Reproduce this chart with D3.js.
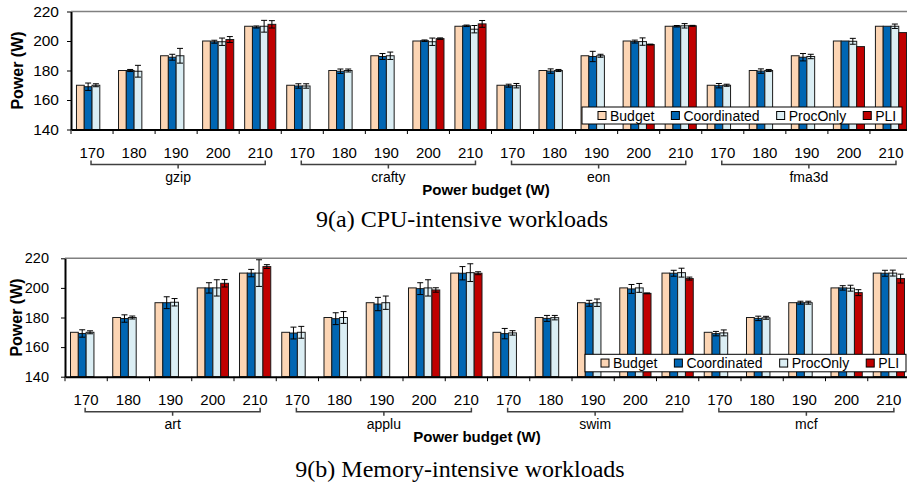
<!DOCTYPE html>
<html>
<head>
<meta charset="utf-8">
<script src="https://cdn.jsdelivr.net/npm/d3@7"></script>
<style>
  body { margin: 0; background: #fff; }
</style>
</head>
<body>
<script>
// categories
const budgets = [170, 180, 190, 200, 210];
const seriesNames = ['Budget', 'Coordinated', 'ProcOnly', 'PLI'];
const yTicks = [140, 160, 180, 200, 220];

// 9(a) CPU-intensive workloads
const cpuWorkloads = ['gzip', 'crafty', 'eon', 'fma3d'];
const cpuBudget = [170, 180, 190, 200, 210, 170, 180, 190, 200, 210, 170, 180, 190, 200, 210, 170, 180, 190, 200, 210];
const cpuCoord = [169, 180, 189, 199.5, 209.5, 169.5, 179.5, 189.5, 200.2, 210.3, 169.7, 179.6, 189.5, 199.6, 210, 169.7, 179.6, 189, 200, 210];
const cpuCoordErr = [2.5, 0.7, 2, 1, 0.7, 1.5, 1.5, 2, 0.5, 0.5, 1, 1.5, 3.5, 1, 0.5, 1.5, 1.5, 2.5, 0, 0];
const cpuProc = [170, 179.5, 190, 199.5, 210, 169.5, 180, 190, 199.5, 208, 169.7, 180, 190, 199.6, 210.3, 170, 180, 189.5, 199.8, 210];
const cpuProcErr = [1, 4, 5, 2.5, 4, 1.5, 1, 2.5, 2.5, 2.5, 1.5, 0.7, 1, 2.5, 1.5, 0.7, 0.7, 1.5, 2, 1.5];
const cpuPLI = [null, null, null, 201, 211.3, null, null, null, 201.6, 211.6, null, null, null, 197.6, 210.3, null, null, null, 196.2, 205.7];
const cpuPLIErr = [0, 0, 0, 2, 2.5, 0, 0, 0, 0.5, 2.3, 0, 0, 0, 0.3, 0.3, 0, 0, 0, 0, 0];

// 9(b) Memory-intensive workloads
const memWorkloads = ['art', 'applu', 'swim', 'mcf'];
const memBudget = [170, 180, 190, 200, 210, 170, 180, 190, 200, 210, 170, 180, 190, 200, 210, 170, 180, 190, 200, 210];
const memCoord = [169.2, 179.3, 190, 200, 210, 169.5, 179.2, 189.1, 199.5, 209.9, 169.1, 179.4, 189.6, 199.3, 209.9, 169.1, 179.4, 190, 200, 209.9];
const memCoordErr = [2.5, 2.5, 4, 3.5, 2.5, 4, 4, 4.5, 4, 4.5, 3.5, 2, 2, 3, 2, 1.5, 1.5, 1, 1.5, 2];
const memProc = [170, 180, 190.3, 200, 210, 170, 180, 190, 200, 210.3, 169.6, 179.9, 190, 200, 210.3, 169.6, 179.8, 190, 199.8, 210];
const memProcErr = [1, 1, 2.5, 5.5, 9, 4, 4, 4.5, 5.5, 6, 1.5, 1.5, 2.5, 3, 3, 2, 1, 1, 2, 2];
const memPLI = [null, null, null, 203.1, 214.4, null, null, null, 198.6, 209.9, null, null, null, 196.3, 206.3, null, null, null, 196.8, 206.3];
const memPLIErr = [0, 0, 0, 2.5, 1.3, 0, 0, 0, 1.5, 1, 0, 0, 0, 0.3, 1, 0, 0, 0, 2, 3];

const colors = ['#fcd5b4', '#0066b3', '#dbeef4', '#c00000'];
const sans = '"Liberation Sans", Arial, sans-serif';
const serif = '"Liberation Serif", "Times New Roman", serif';

const [w, h] = [907, 485];

const svg = d3.select('body')
  .append('svg')
  .attr('width', w)
  .attr('height', h);

function drawPanel(p) {
  const g = svg.append('g');
  const n = p.workloads.length * budgets.length;

  const x0 = d3.scaleBand()
    .domain(d3.range(n))
    .range([p.left, p.right])
    .paddingInner(0.26)
    .paddingOuter(0.13);
  const x1 = d3.scaleBand()
    .domain(seriesNames)
    .range([0, x0.bandwidth()]);
  const y = d3.scaleLinear()
    .domain([140, 220])
    .range([p.bottom, p.top]);

  // gray top frame
  g.append('line')
    .attr('x1', p.left).attr('x2', p.right)
    .attr('y1', y(220)).attr('y2', y(220))
    .attr('stroke', '#808080')
    .attr('stroke-width', 1.5);

  // bars
  seriesNames.forEach((s, si) => {
    const rows = p.values[si].map((v, i) => ({ v, i })).filter(d => d.v != null);
    g.append('g')
      .selectAll('rect')
      .data(rows)
      .join('rect')
      .attr('x', d => x0(d.i) + x1(s))
      .attr('y', d => y(d.v))
      .attr('width', x1.bandwidth())
      .attr('height', d => y(140) - y(d.v))
      .attr('fill', colors[si])
      .attr('stroke', '#1a1a1a')
      .attr('stroke-width', 1);
  });

  // error bars
  seriesNames.forEach((s, si) => {
    if (!p.errs[si]) return;
    const rows = p.values[si]
      .map((v, i) => ({ v, e: p.errs[si][i], i }))
      .filter(d => d.v != null && d.e > 0);
    const eg = g.append('g')
      .attr('stroke', '#000')
      .attr('stroke-width', 1);
    const cx = d => x0(d.i) + x1(s) + x1.bandwidth() / 2;
    eg.selectAll('line.v').data(rows).join('line').attr('class', 'v')
      .attr('x1', cx).attr('x2', cx)
      .attr('y1', d => y(d.v - d.e)).attr('y2', d => y(d.v + d.e));
    eg.selectAll('line.t').data(rows).join('line').attr('class', 't')
      .attr('x1', d => cx(d) - 3).attr('x2', d => cx(d) + 3)
      .attr('y1', d => y(d.v + d.e)).attr('y2', d => y(d.v + d.e));
    eg.selectAll('line.b').data(rows).join('line').attr('class', 'b')
      .attr('x1', d => cx(d) - 3).attr('x2', d => cx(d) + 3)
      .attr('y1', d => y(d.v - d.e)).attr('y2', d => y(d.v - d.e));
  });

  // y axis
  const yAxis = d3.axisLeft(y)
    .tickValues(yTicks)
    .tickSize(4)
    .tickSizeOuter(0)
    .tickPadding(p.yPad);
  const ya = g.append('g')
    .attr('transform', `translate(${p.left}, 0)`)
    .call(yAxis);
  ya.select('.domain').attr('stroke-width', 2);
  ya.selectAll('text')
    .attr('font-family', sans)
    .attr('font-size', p.yFont)
    .attr('fill', '#000');

  // x axis: labels at category centres, ticks at boundaries
  const xAxis = d3.axisBottom(x0)
    .tickFormat(i => budgets[i % budgets.length])
    .tickSize(0)
    .tickSizeOuter(0)
    .tickPadding(18);
  const xa = g.append('g')
    .attr('transform', `translate(0, ${p.bottom})`)
    .call(xAxis);
  xa.select('.domain').attr('stroke-width', 2).attr('stroke', '#000');
  xa.selectAll('text')
    .attr('font-family', sans)
    .attr('font-size', 15)
    .attr('fill', '#000');

  const half = (x0.step() - x0.bandwidth()) / 2;
  g.append('g')
    .selectAll('line')
    .data(d3.range(n))
    .join('line')
    .attr('x1', i => x0(i) - half).attr('x2', i => x0(i) - half)
    .attr('y1', p.bottom).attr('y2', p.bottom + 4.5)
    .attr('stroke', '#000')
    .attr('stroke-width', 1);

  // workload brackets
  const yb = p.bottom + 35;
  const brackets = p.workloads.map((name, wi) => {
    const first = wi * budgets.length;
    const last = first + budgets.length - 1;
    const xl = x0(first) + x0.bandwidth() / 2 - 1;
    const xr = x0(last) + x0.bandwidth() / 2 + 5;
    return { name, xl, xr, xm: (xl + xr) / 2 };
  });
  const bg = g.append('g')
    .attr('fill', 'none')
    .attr('stroke', '#404040')
    .attr('stroke-width', 1.5);
  bg.selectAll('path.br')
    .data(brackets)
    .join('path')
    .attr('class', 'br')
    .attr('d', d => `M${d.xl},${yb - 4}V${yb}H${d.xr}V${yb - 4}M${d.xm},${yb}V${yb + 4}`);
  g.append('g')
    .selectAll('text')
    .data(brackets)
    .join('text')
    .attr('x', d => d.xm)
    .attr('y', p.bottom + 52.5)
    .attr('text-anchor', 'middle')
    .attr('font-family', sans)
    .attr('font-size', 14)
    .text(d => d.name);

  // axis titles
  g.append('text')
    .attr('x', p.xTitleX)
    .attr('y', p.bottom + 65.5)
    .attr('text-anchor', 'middle')
    .attr('font-family', sans)
    .attr('font-weight', 'bold')
    .attr('font-size', 15)
    .text('Power budget (W)');

  const ym = (p.top + p.bottom) / 2;
  g.append('text')
    .attr('transform', `translate(${p.yTitleX}, ${ym}) rotate(-90)`)
    .attr('text-anchor', 'middle')
    .attr('font-family', sans)
    .attr('font-weight', 'bold')
    .attr('font-size', 16)
    .text('Power (W)');

  // legend
  const lg = g.append('g');
  lg.append('rect')
    .attr('x', p.legend.x).attr('y', p.legend.y)
    .attr('width', p.legend.w).attr('height', p.legend.h)
    .attr('fill', '#fff')
    .attr('stroke', '#000')
    .attr('stroke-width', 1);
  let lx = p.legend.x + 16;
  const ly = p.legend.y + p.legend.h / 2;
  seriesNames.forEach((s, si) => {
    lg.append('rect')
      .attr('x', lx).attr('y', ly - 4)
      .attr('width', 8).attr('height', 8)
      .attr('fill', colors[si])
      .attr('stroke', '#000')
      .attr('stroke-width', 1);
    const t = lg.append('text')
      .attr('x', lx + 12)
      .attr('y', ly + 5)
      .attr('font-family', sans)
      .attr('font-size', 14)
      .text(s);
    lx += 12 + t.node().getComputedTextLength() + 17;
  });

  // caption
  g.append('text')
    .attr('x', p.capX)
    .attr('y', p.capY)
    .attr('text-anchor', 'middle')
    .attr('font-family', serif)
    .attr('font-size', 24)
    .text(p.caption);
}

drawPanel({
  workloads: cpuWorkloads,
  values: [cpuBudget, cpuCoord, cpuProc, cpuPLI],
  errs: [null, cpuCoordErr, cpuProcErr, cpuPLIErr],
  left: 71, right: 912, top: 11.5, bottom: 129.5,
  yPad: 8, yFont: 15.5, yTitleX: 22.5,
  xTitleX: 486,
  legend: { x: 582, y: 107, w: 320, h: 17 },
  caption: '9(a) CPU-intensive workloads', capX: 462, capY: 226.5
});

drawPanel({
  workloads: memWorkloads,
  values: [memBudget, memCoord, memProc, memPLI],
  errs: [null, memCoordErr, memProcErr, memPLIErr],
  left: 65, right: 910, top: 258.3, bottom: 376.7,
  yPad: 12, yFont: 14.5, yTitleX: 21.5,
  xTitleX: 477,
  legend: { x: 585, y: 354.3, w: 321, h: 17.5 },
  caption: '9(b) Memory-intensive workloads', capX: 460, capY: 476.5
});
</script>
</body>
</html>
